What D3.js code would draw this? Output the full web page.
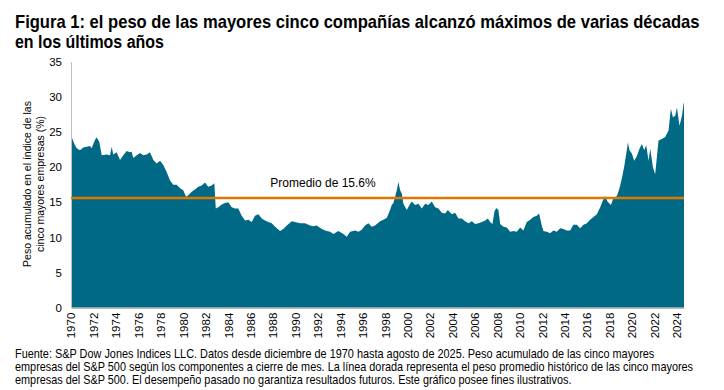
<!DOCTYPE html>
<html>
<head>
<meta charset="utf-8">
<script src="https://cdn.jsdelivr.net/npm/d3@7"></script>
<style>
  body { margin: 0; background: #fff; }
  svg { display: block; }
</style>
</head>
<body>
<script>
// fecha decimal (fin de mes) y peso acumulado (%) de las cinco mayores
var years = [1970.92, 1971.27, 1971.43, 1971.72, 1972.01, 1972.32, 1972.61, 1972.76, 1973.06, 1973.21,
  1973.44, 1973.66, 1974.10, 1974.40, 1974.55, 1974.69, 1974.99, 1975.29, 1975.58, 1975.89,
  1976.18, 1976.33, 1976.47, 1976.78, 1977.07, 1977.37, 1977.67, 1977.96, 1978.26, 1978.56,
  1978.86, 1979.15, 1979.45, 1979.75, 1980.04, 1980.35, 1980.64, 1980.93, 1981.18, 1981.38,
  1981.68, 1981.98, 1982.27, 1982.58, 1982.87, 1983.16, 1983.47, 1983.70, 1983.83, 1984.06,
  1984.36, 1984.65, 1984.95, 1985.25, 1985.55, 1985.84, 1986.14, 1986.44, 1986.73, 1987.04,
  1987.33, 1987.63, 1987.93, 1988.22, 1988.52, 1988.82, 1989.12, 1989.56, 1989.86, 1990.16,
  1990.61, 1990.90, 1991.35, 1991.79, 1992.24, 1992.53, 1992.83, 1993.28, 1993.58, 1994.02,
  1994.32, 1994.76, 1995.21, 1995.51, 1995.81, 1996.25, 1996.55, 1996.85, 1997.14, 1997.44,
  1997.74, 1998.03, 1998.48, 1998.78, 1999.08, 1999.37, 1999.52, 1999.67, 1999.82, 1999.97,
  2000.11, 2000.27, 2000.42, 2000.56, 2000.86, 2001.16, 2001.31, 2001.60, 2001.90, 2002.20,
  2002.50, 2002.79, 2003.09, 2003.39, 2003.68, 2003.98, 2004.28, 2004.52, 2004.88, 2005.17,
  2005.47, 2005.77, 2006.06, 2006.36, 2006.66, 2006.96, 2007.25, 2007.55, 2007.85, 2008.09,
  2008.29, 2008.50, 2008.68, 2008.83, 2009.03, 2009.19, 2009.48, 2009.78, 2010.08, 2010.37,
  2010.67, 2010.97, 2011.26, 2011.56, 2011.86, 2012.15, 2012.45, 2012.66, 2012.90, 2013.04,
  2013.35, 2013.64, 2013.93, 2014.24, 2014.54, 2014.83, 2015.13, 2015.43, 2015.72, 2016.03,
  2016.32, 2016.62, 2016.92, 2017.21, 2017.51, 2017.81, 2018.11, 2018.35, 2018.55, 2018.76,
  2019.06, 2019.29, 2019.60, 2019.83, 2020.04, 2020.25, 2020.43, 2020.58, 2020.72, 2020.94,
  2021.14, 2021.38, 2021.61, 2021.83, 2022.03, 2022.21, 2022.42, 2022.57, 2022.81, 2023.01,
  2023.16, 2023.31, 2023.61, 2023.90, 2024.20, 2024.41, 2024.59, 2024.80, 2024.95, 2025.18,
  2025.40, 2025.54, 2025.58];
var weights = [24.5, 23.1, 22.7, 22.4, 22.8, 22.9, 23.0, 22.7, 23.9, 24.2,
  23.6, 21.7, 21.8, 21.7, 22.9, 21.8, 22.1, 21.0, 21.7, 22.3,
  22.1, 22.2, 21.3, 21.7, 22.0, 21.7, 21.8, 22.1, 21.0, 20.5,
  20.9, 20.3, 19.3, 18.1, 17.5, 17.5, 17.0, 16.7, 15.8, 16.0,
  16.5, 16.8, 17.2, 17.4, 17.8, 17.2, 17.4, 17.7, 14.1, 14.3,
  14.7, 14.9, 15.0, 14.3, 14.1, 14.1, 13.1, 12.4, 12.5, 12.2,
  13.1, 13.3, 12.7, 12.4, 12.2, 12.0, 11.5, 10.9, 11.2, 11.7,
  12.3, 12.2, 12.0, 12.0, 11.7, 11.6, 11.7, 11.2, 11.0, 10.8,
  10.5, 10.9, 10.5, 10.1, 10.8, 11.0, 10.8, 11.1, 11.7, 12.0,
  11.5, 11.7, 12.3, 12.5, 12.8, 13.9, 14.6, 14.9, 15.8, 16.7,
  17.9, 16.7, 16.2, 14.8, 13.9, 14.8, 15.1, 14.6, 14.8, 14.1,
  14.8, 14.6, 15.1, 14.3, 14.1, 13.5, 13.4, 13.9, 13.3, 13.5,
  12.7, 12.7, 12.3, 12.0, 12.3, 11.9, 12.0, 12.2, 12.4, 12.7,
  12.2, 11.9, 13.7, 14.2, 13.9, 11.9, 11.5, 11.4, 10.8, 10.9,
  10.8, 11.4, 11.0, 12.2, 12.5, 12.9, 13.1, 13.4, 11.7, 10.9,
  10.8, 10.6, 11.0, 10.8, 11.3, 11.2, 11.0, 11.0, 11.8, 11.8,
  11.3, 11.8, 12.0, 12.5, 12.9, 13.3, 14.3, 15.3, 15.9, 15.1,
  14.6, 15.6, 15.9, 17.0, 18.4, 20.1, 21.9, 23.5, 22.4, 21.9,
  20.9, 21.6, 22.6, 23.3, 22.4, 23.1, 20.9, 22.6, 20.0, 19.0,
  21.4, 23.8, 24.0, 24.3, 25.2, 28.3, 27.1, 27.3, 28.5, 25.9,
  27.3, 29.0, 29.2];
var average = 15.6;
var yTicks = [0, 5, 10, 15, 20, 25, 30, 35];
var xLabels = d3.range(1970, 2025, 2);

var titleLines = ["Figura 1: el peso de las mayores cinco compañías alcanzó máximos de varias décadas",
  "en los últimos años"];
var yTitle = ["Peso acumulado en el índice de las", "cinco mayores empresas (%)"];
var notes = ["Fuente: S&P Dow Jones Indices LLC. Datos desde diciembre de 1970 hasta agosto de 2025. Peso acumulado de las cinco mayores",
  "empresas del S&P 500 según los componentes a cierre de mes. La línea dorada representa el peso promedio histórico de las cinco mayores",
  "empresas del S&P 500. El desempeño pasado no garantiza resultados futuros. Este gráfico posee fines ilustrativos."];

var data = years.map(function (d, i) { return { t: d, v: weights[i] }; });

var svg = d3.select("body").append("svg")
  .attr("width", 724)
  .attr("height", 390);

var sans = "'Liberation Sans', Arial, sans-serif";

// the original uses a condensed face: squeeze each line horizontally to its width
function squeeze(sel, widths, x0, y0, step) {
  sel.each(function (d, i) {
    var w = this.getComputedTextLength();
    var k = Math.min(1, widths[i] / w);
    d3.select(this).attr("transform",
      "translate(" + x0 + "," + (y0 + i * step) + ") scale(" + k + ",1)");
  });
}

var titleWidths = [685, 149];
svg.append("g").selectAll("text")
  .data(titleLines)
  .enter().append("text")
  .style("font-family", sans)
  .style("font-weight", "bold")
  .style("font-size", "18px")
  .attr("fill", "#000")
  .text(function (d) { return d; })
  .call(squeeze, titleWidths, 15, 28, 20);

var x = d3.scaleLinear()
  .domain([years[0], years[years.length - 1]])
  .range([71, 684]);

var y = d3.scaleLinear()
  .domain([0, 35])
  .range([307.7, 61.7]);

// area
svg.append("path")
  .datum(data)
  .attr("fill", "#006a86")
  .attr("d", d3.area()
    .x(function (d) { return x(d.t); })
    .y0(y(0))
    .y1(function (d) { return y(d.v); }));

// axes
var yAxis = svg.append("g")
  .attr("transform", "translate(71,0)")
  .call(d3.axisLeft(y).tickValues(yTicks).tickSize(0).tickPadding(9));
yAxis.select(".domain").attr("stroke", "#bfbfbf");
yAxis.selectAll("text").style("font-family", sans).style("font-size", "11.5px").attr("fill", "#000");

var xAxis = svg.append("g")
  .attr("transform", "translate(0," + y(0) + ")")
  .call(d3.axisBottom(x)
    .tickValues(xLabels.map(function (d) { return d + 11 / 12; }))
    .tickFormat(function (d) { return Math.round(d - 11 / 12); })
    .tickSize(0));
xAxis.select(".domain").attr("stroke", "#bfbfbf").attr("stroke-width", 1.5);
xAxis.selectAll("text")
  .attr("transform", "rotate(-90)")
  .attr("x", -5)
  .attr("y", 0)
  .attr("dy", "0.35em")
  .style("text-anchor", "end")
  .style("font-family", sans)
  .style("font-size", "11.5px")
  .attr("fill", "#000");

// average line
svg.append("line")
  .attr("x1", x.range()[0])
  .attr("x2", x.range()[1])
  .attr("y1", y(average))
  .attr("y2", y(average))
  .attr("stroke", "#e07800")
  .attr("stroke-width", 2.5);

svg.append("text")
  .attr("x", 323)
  .attr("y", y(average) - 11)
  .attr("text-anchor", "middle")
  .style("font-family", sans)
  .style("font-size", "12px")
  .attr("fill", "#000")
  .text("Promedio de " + average + "%");

// y title
svg.append("g")
  .attr("transform", "translate(0,184) rotate(-90)")
  .selectAll("text")
  .data(yTitle)
  .enter().append("text")
  .attr("x", 0)
  .attr("y", function (d, i) { return 31 + i * 13; })
  .attr("text-anchor", "middle")
  .style("font-family", sans)
  .style("font-size", "10.5px")
  .attr("fill", "#000")
  .text(function (d) { return d; });

// notes
var noteWidths = [640, 679, 557];
svg.append("g").selectAll("text")
  .data(notes)
  .enter().append("text")
  .style("font-family", sans)
  .style("font-size", "12px")
  .attr("fill", "#000")
  .text(function (d) { return d; })
  .call(squeeze, noteWidths, 15, 358, 13);
</script>
</body>
</html>
